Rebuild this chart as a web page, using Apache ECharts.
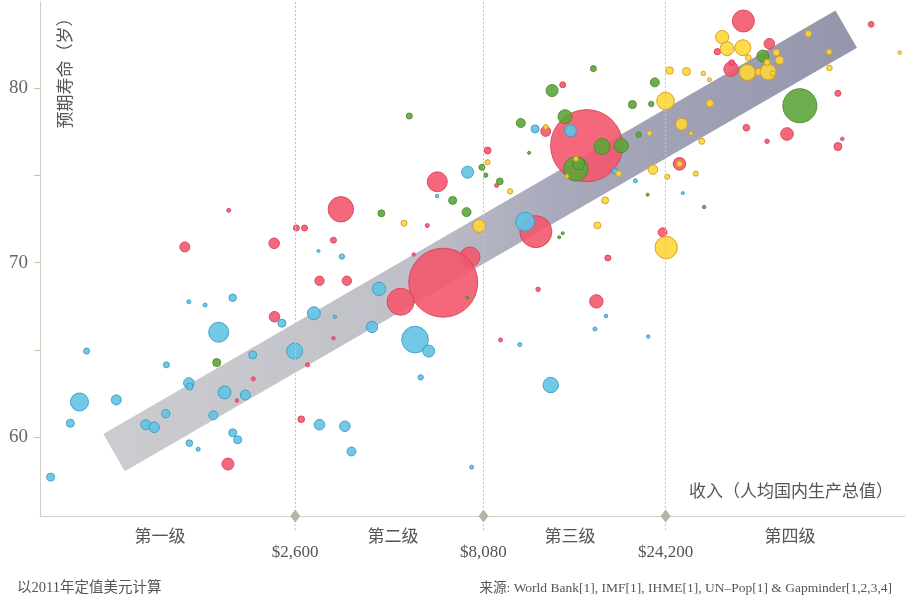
<!DOCTYPE html>
<html><head><meta charset="utf-8">
<script src="https://cdn.jsdelivr.net/npm/echarts@6/dist/echarts.min.js"></script>
<style>html,body{margin:0;padding:0;background:#fff}#c{width:911px;height:601px}</style>
</head><body><div id="c"></div>
<script>
// [income per person (USD), life expectancy (years), population (millions)]
const asia = [[2295,66.9,28],[2800,64.14,4],[2020,63.34,4],[1831,62.09,3],[2696,61.02,11],[1734,58.45,36],[1742,73.0,4],[1337,70.9,25],[2290,71.11,28],[2618,71.99,9],[2750,71.99,9],[6117,74.64,100],[8741,74.43,4],[3422,73.06,161],[5760,72.13,4],[3273,71.29,9],[5306,70.47,3],[7445,70.33,100],[6340,68.85,1190],[4904,67.76,182],[3009,68.96,22],[3548,68.96,22],[3273,65.67,3],[11074,71.78,256],[17090,70.27,9],[11225,68.47,5],[15944,67.78,45],[8956,65.57,4],[8281,76.43,12],[13018,80.2,9],[11755,77.53,25],[15041,76.71,1300],[23760,71.74,20],[38646,83.86,121],[83432,83.67,8],[33058,82.1,10],[45186,82.56,28],[35895,81.1,53],[36034,81.46,9],[68290,79.71,9],[39354,77.74,11],[50260,77.38,40],[44566,76.96,5],[68290,76.66,16],[70130,77.1,3],[26306,75.67,40]];
const africa = [[1370,67.76,4],[1511,67.57,4],[1784,67.99,14],[2400,66.53,16],[2909,67.1,42],[1640,66.01,100],[740,64.93,9],[1197,64.14,9],[2590,64.93,64],[2012,64.71,16],[1370,63.1,28],[1376,62.89,12],[1699,62.56,42],[1925,62.41,25],[709,62.01,81],[885,62.13,25],[671,60.79,16],[1192,61.34,18],[1588,61.25,20],[1057,60.71,25],[1112,60.56,28],[1784,60.24,16],[1838,59.84,16],[1374,59.65,11],[1449,59.3,4],[596,57.7,16],[2991,70.67,2.3],[3444,70.35,7],[4308,68.5,45],[3301,66.9,3],[4130,66.31,32],[5349,65.59,177],[5807,64.93,36],[5535,63.42,7],[3009,60.71,28],[3506,60.62,28],[3649,59.17,20],[7521,58.27,4],[7342,75.19,36],[6106,73.82,3],[10381,72.35,90],[11024,77.67,16],[13638,77.57,36],[17830,75.25,9],[20170,74.7,4],[26830,73.99,2.3],[16892,66.94,3],[15811,66.2,4],[10055,65.3,4],[12114,62.98,59],[21794,65.76,3]];
const americas = [[1620,64.27,16],[8005,75.47,9],[8183,75.02,5],[8916,74.66,11],[4368,72.83,12],[6709,73.57,16],[7297,72.9,20],[5169,78.41,9],[13018,71.69,2.3],[12752,71.46,2.3],[7324,68.0,2.3],[15660,81.13,9],[12210,79.87,36],[22677,80.34,20],[19808,79.07,16],[22192,79.1,7],[13203,78.37,49],[10116,78.01,20],[18530,76.71,49],[16500,76.66,64],[14094,75.38,150],[14335,75.67,36],[10634,76.3,2.3],[20560,77.34,7],[21710,73.9,2.3],[30517,73.19,3],[43457,81.85,36],[54310,79.0,289]];
const europe = [[7868,72.11,42],[5008,72.26,9],[9485,74.09,7],[8281,75.76,6],[11755,77.78,6],[16810,73.57,12],[16040,72.14,12],[18230,75.11,9],[14104,75.95,6],[13357,74.96,4],[24790,81.02,14],[24183,79.27,77],[22414,75.34,23],[24433,74.93,6],[21965,77.42,7],[24284,70.87,125],[26627,77.94,36],[28196,77.42,4],[30081,76.96,9],[29014,75.11,6],[27437,80.96,16],[30360,80.85,5],[31504,80.49,4],[31600,79.14,14],[34005,82.94,44],[35041,82.27,49],[38535,82.33,64],[39826,81.75,9],[39590,80.91,64],[42376,80.94,12],[44852,80.94,64],[46202,80.85,6],[44566,81.49,9],[47128,82.05,12],[48070,81.61,18],[57195,83.13,11],[64800,82.09,8],[64900,81.17,8],[99070,82.05,3],[26306,75.67,9]];
// trend band (centre line end points)
const bandLine = [[873,59.1],[71800,83.4]];
// income level thresholds
const tierValues = [2600, 8080, 24200];
const tierLabels = ['$2,600', '$8,080', '$24,200'];
const levelNames = ['第一级', '第二级', '第三级', '第四级'];
const yTicks = [60, 65, 70, 75, 80];
const yLabels = [60, 70, 80];

const X_MIN = 559, X_MAX = 102300, Y_MIN = 55.47, Y_MAX = 84.95;
const SERIF = "'Liberation Serif','Noto Sans CJK SC',serif";
const CJK = "'Noto Sans CJK SC','Liberation Serif',sans-serif";
const chart = echarts.init(document.getElementById('c'));

function bubble(name, data, color, border) {
  return {
    type: 'scatter', name, data, silent: true, z: 3,
    symbolSize: d => 2 * Math.sqrt(d[2]),
    itemStyle: { color, borderColor: border, borderWidth: 1, opacity: 0.9 }
  };
}

chart.setOption({
  animation: false,
  backgroundColor: '#ffffff',
  grid: { left: 40, right: 6, top: 2, bottom: 85 },
  xAxis: {
    type: 'log', logBase: 10, min: X_MIN, max: X_MAX,
    axisLine: { lineStyle: { color: '#cfd0c2', width: 1 } },
    axisTick: { show: false }, axisLabel: { show: false }, splitLine: { show: false }
  },
  yAxis: {
    type: 'value', min: Y_MIN, max: Y_MAX,
    axisLine: { show: true, lineStyle: { color: '#cfd0c2', width: 1 } },
    axisTick: { show: true, length: 6, customValues: yTicks, lineStyle: { color: '#c0c1b3' } },
    axisLabel: { customValues: yLabels, margin: 12, color: '#666', fontSize: 19, fontFamily: SERIF },
    splitLine: { show: false }
  },
  series: [
    {
      type: 'line', data: bandLine, symbol: 'none', silent: true, z: 1,
      lineStyle: {
        width: 43, cap: 'butt',
        color: new echarts.graphic.LinearGradient(0, 0, 1, 0, [
          { offset: 0, color: '#cdcdd0' },
          { offset: 0.4, color: '#c0c1c8' },
          { offset: 0.6, color: '#a8a9bb' },
          { offset: 1, color: '#9395ac' }
        ])
      },
      markLine: {
        silent: true, symbol: 'none', label: { show: false },
        lineStyle: { color: '#c3c5b3', type: [2, 2], width: 1 },
        data: tierValues.map(v => ({ xAxis: v }))
      },
      markPoint: {
        silent: true, symbol: 'diamond', symbolSize: [10, 13],
        itemStyle: { color: '#b1b6a7' }, label: { show: false },
        data: tierValues.map(v => ({ coord: [v, Y_MIN] }))
      }
    },
    bubble('亚洲', asia, '#f4566c', '#d8405a'),
    bubble('非洲', africa, '#62c3e3', '#3a9ac4'),
    bubble('美洲', americas, '#5ea53b', '#478a2a'),
    bubble('欧洲', europe, '#fcd73a', '#d9981c')
  ]
});

const gfx = [];
tierValues.forEach((v, i) => {
  const p = chart.convertToPixel({ xAxisIndex: 0, yAxisIndex: 0 }, [v, Y_MIN]);
  gfx.push({ type: 'line', silent: true, z: 0, shape: { x1: p[0], y1: p[1], x2: p[0], y2: p[1] + 16 },
    style: { stroke: '#c3c5b3', lineWidth: 1, lineDash: [2, 2] } });
  gfx.push({ type: 'text', silent: true, x: p[0], y: p[1] + 37,
    style: { text: tierLabels[i], fill: '#555', fontSize: 17, fontFamily: SERIF, align: 'center', verticalAlign: 'middle' } });
});
const levelX = [160, 393, 570, 790];
levelNames.forEach((t, i) => {
  gfx.push({ type: 'text', silent: true, x: levelX[i], y: 536,
    style: { text: t, fill: '#555', fontSize: 17, fontFamily: CJK, align: 'center', verticalAlign: 'middle' } });
});
gfx.push({ type: 'text', silent: true, x: 65, y: 69, rotation: Math.PI / 2,
  style: { text: '预期寿命（岁）', fill: '#555', fontSize: 17, fontFamily: CJK, align: 'center', verticalAlign: 'middle' } });
gfx.push({ type: 'text', silent: true, x: 893, y: 491,
  style: { text: '收入（人均国内生产总值）', fill: '#555', fontSize: 17, fontFamily: CJK, align: 'right', verticalAlign: 'middle' } });
gfx.push({ type: 'text', silent: true, x: 17, y: 588,
  style: { text: '以2011年定值美元计算', fill: '#555', fontSize: 14.5, fontFamily: SERIF, align: 'left', verticalAlign: 'middle' } });
gfx.push({ type: 'text', silent: true, x: 892, y: 588,
  style: { text: '来源: World Bank[1], IMF[1], IHME[1], UN–Pop[1] & Gapminder[1,2,3,4]', fill: '#555', fontSize: 13.5, fontFamily: SERIF, align: 'right', verticalAlign: 'middle' } });
chart.setOption({ graphic: gfx });
</script>
</body></html>
